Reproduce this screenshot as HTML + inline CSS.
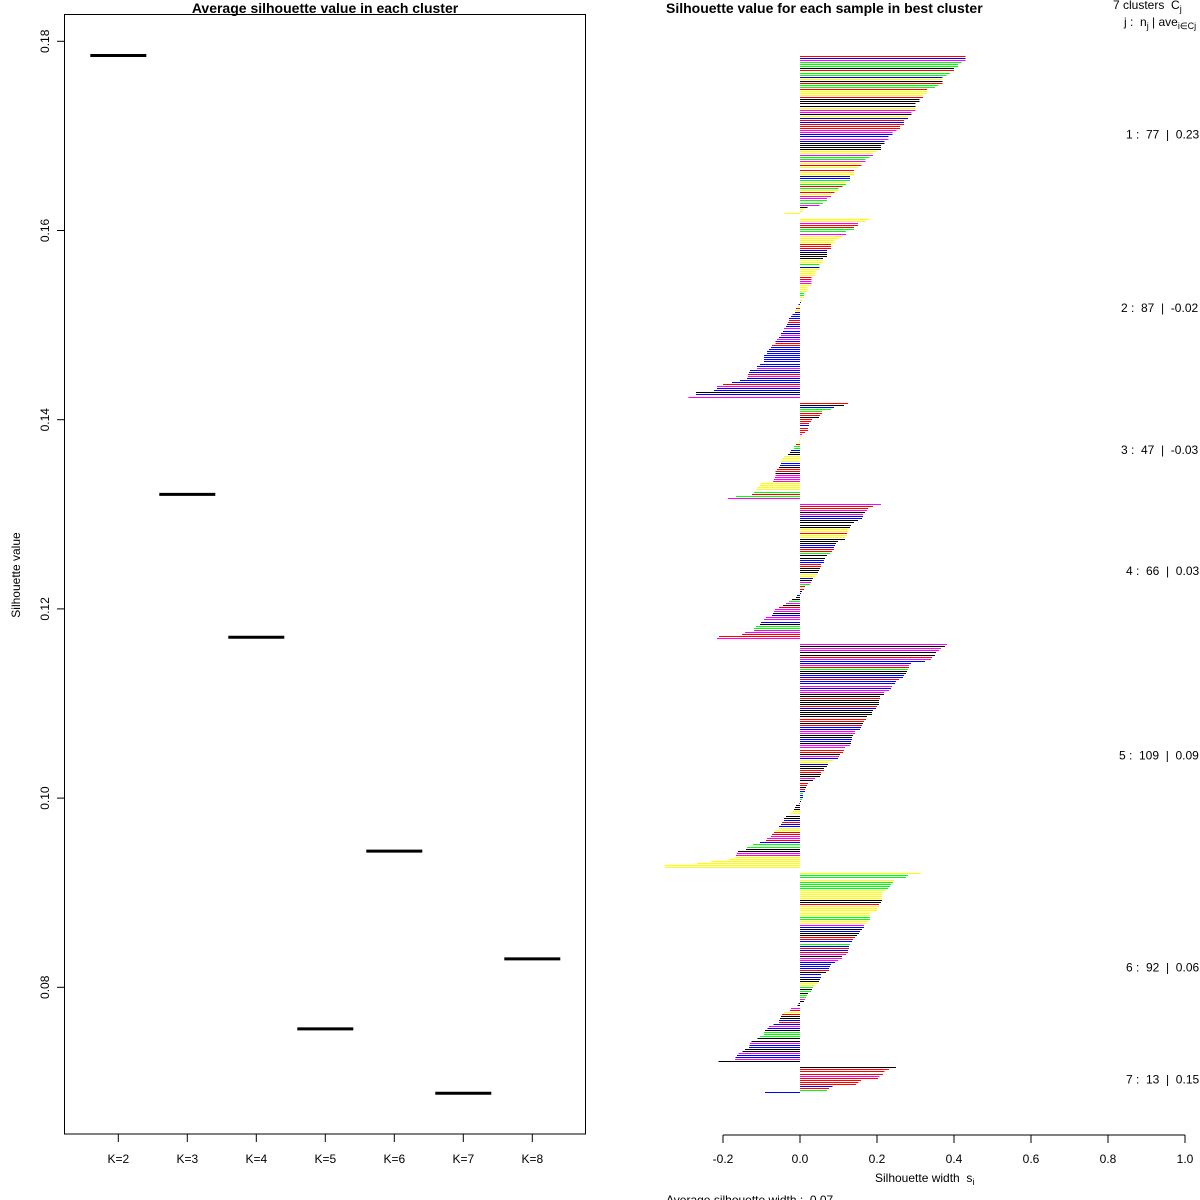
<!DOCTYPE html>
<html><head><meta charset="utf-8">
<style>
html,body{margin:0;padding:0;background:#fff;}
svg{display:block;font-family:"Liberation Sans",Arial,sans-serif;}
.pre{white-space:pre;}
</style></head>
<body>
<svg id="chart" width="1200" height="1200" viewBox="0 0 1200 1200">
  <rect x="0" y="0" width="1200" height="1200" fill="#fff"/>
  <g id="left">
    <text x="325" y="13" text-anchor="middle" font-size="14" font-weight="bold">Average silhouette value in each cluster</text>
    <rect x="64.5" y="14.5" width="521" height="1119.5" fill="none" stroke="#000" stroke-width="1"/>
    <text transform="translate(20,575) rotate(-90)" text-anchor="middle" font-size="12">Silhouette value</text>
  </g>
  <g id="right">
    <text x="666" y="13" font-size="14" font-weight="bold">Silhouette value for each sample in best cluster</text>
    <text x="1113" y="9" font-size="12" class="pre">7 clusters  C<tspan font-size="9" dy="3">j</tspan></text>
    <text x="1124" y="26" font-size="12" class="pre">j :  n<tspan font-size="9" dy="3">j</tspan><tspan dy="-3"> | ave</tspan><tspan font-size="9" dy="3">i∈Cj</tspan><tspan dy="-3">  s</tspan><tspan font-size="9" dy="3">i</tspan></text>
    <text x="875" y="1182" font-size="12" class="pre">Silhouette width  s<tspan font-size="9" dy="3">i</tspan></text>
    <text x="666" y="1204" font-size="12" class="pre">Average silhouette width :  0.07</text>
  </g>
</svg>
<script>
// ---- left chart data ----
const kLabels = ["K=2","K=3","K=4","K=5","K=6","K=7","K=8"];
const kAvg = [0.1785,0.1321,0.1170,0.0756,0.0944,0.0688,0.0830];
const yTicks = [0.08,0.10,0.12,0.14,0.16,0.18];

// ---- right chart data ----
const clusterSizes = [77,87,47,66,109,92,13];
const clusterAvgLabels = ["0.23","-0.02","-0.03","0.03","0.09","0.06","0.15"];
const xTicks = [-0.2,0.0,0.2,0.4,0.6,0.8,1.0];
const c1 = [.43,.43,.43,.42,.41,.41,.40,.40,.39,.38,.37,.37,.37,.37,.36,.35,.33,.33,.33,.32,.32,.31,.31,.30,.30,.30,.30,.29,.29,.28,.28,.27,.27,.27,.26,.26,.25,.24,.24,.23,.23,.22,.22,.21,.21,.21,.20,.19,.19,.18,.17,.17,.16,.16,.15,.14,.14,.14,.13,.13,.13,.12,.12,.11,.10,.10,.09,.08,.08,.07,.07,.06,.05,.02,.01,.005,-.04];
const c2 = [.18,.17,.15,.15,.14,.14,.12,.12,.11,.10,.09,.09,.08,.08,.08,.07,.07,.07,.07,.06,.06,.06,.05,.05,.05,.04,.04,.04,.03,.03,.03,.03,.03,.02,.02,.02,.01,.01,.01,.005,.002,
 -.004,-.007,-.01,-.013,-.013,-.02,-.023,-.029,-.029,-.031,-.034,-.036,-.042,-.044,-.05,-.05,-.055,-.06,-.063,-.063,-.073,-.075,-.081,-.086,-.086,-.094,-.094,-.094,-.094,-.104,-.112,-.112,-.13,-.132,-.135,-.135,-.138,-.156,-.177,-.2,-.216,-.216,-.223,-.27,-.27,-.29];
const c3 = [.125,.114,.088,.08,.057,.057,.052,.049,.031,.029,.023,.023,.021,.021,.013,.005,.005,.003,
 -.002,-.004,-.01,-.016,-.016,-.023,-.026,-.031,-.042,-.047,-.049,-.049,-.052,-.055,-.06,-.063,-.063,-.063,-.065,-.068,-.07,-.101,-.104,-.112,-.114,-.119,-.125,-.166,-.187];
const c4 = [.21,.19,.177,.174,.169,.164,.164,.161,.151,.14,.132,.13,.127,.125,.122,.122,.117,.117,.099,.094,.091,.088,.088,.083,.078,.07,.065,.062,.062,.055,.055,.052,.049,.047,.044,.039,.034,.031,.029,.026,.013,.01,.005,.003,
 -.008,-.01,-.021,-.029,-.036,-.044,-.055,-.065,-.068,-.07,-.073,-.088,-.094,-.101,-.104,-.114,-.119,-.119,-.143,-.151,-.21,-.216];
const c5 = [.382,.377,.366,.361,.353,.351,.343,.340,.325,.288,.283,.283,.281,.278,.275,.270,.268,.257,.249,.247,.239,.236,.231,.218,.218,.208,.208,.205,.205,.205,.2,.197,.19,.187,.187,.174,.171,.166,.164,.161,.158,.156,.143,.143,.138,.135,.135,.132,.132,.13,.117,.114,.112,.104,.101,.099,.086,.073,.073,.07,.062,.062,.055,.055,.052,.039,.034,.021,.018,.016,.013,.013,.008,.008,.008,.005,.003,
 -.003,-.01,-.013,-.016,-.018,-.026,-.036,-.042,-.042,-.047,-.049,-.055,-.055,-.065,-.068,-.073,-.075,-.086,-.088,-.104,-.122,-.138,-.14,-.161,-.164,-.166,-.169,-.184,-.231,-.268,-.351,-.351];
const c6 = [.314,.281,.275,.244,.242,.236,.234,.229,.221,.213,.213,.213,.213,.213,.21,.205,.205,.2,.2,.182,.182,.182,.182,.177,.171,.166,.166,.161,.156,.153,.148,.143,.138,.135,.13,.127,.127,.125,.125,.119,.109,.109,.099,.091,.081,.078,.075,.075,.068,.055,.055,.052,.049,.047,.039,.034,.031,.029,.021,.018,.016,.013,.01,
 -.004,-.006,-.023,-.026,-.042,-.047,-.049,-.052,-.055,-.055,-.069,-.08,-.085,-.091,-.094,-.094,-.104,-.11,-.126,-.13,-.131,-.133,-.143,-.149,-.16,-.163,-.168,-.169,-.212];
const c7 = [.249,.231,.22,.216,.207,.202,.159,.152,.146,.084,.075,.07,-.091];
const clusterValues = [c1,c2,c3,c4,c5,c6,c7];
const clusterColors = [
 "rbmgggkrggbykrggryyyrkkkkymmkybrbrrrmmbbmbkkkkyymggmyryryybbgygrgyrymmggmkyyy",
 "yymrrggmyyyyrrrbkkkkyygbyyyyrrmmyyyyggyybbyrybbbbrrbbmbbmbmbrrbbbbbbbbbbmbbrmbbbrmbbkbm",
 "rkbggrrkrrrbrrrmyyyyrggbkkyyybbkrrkmmmmyyyygrgmmrrmk",
 "mrrmkmbbkkkkyyryykkkbbrrgkkbbrrkkkyybkmgrrkbbkkgmkrmmkbmmbkggmmrrmk",
 "mkmmkkrmbbmrgkkbbrbbmbmmkkrkkkrbkkkkrrkrbbmmkkbbkmmrrkmbyybkkrrkkmkrrkrbgbbgkmkkkyykkbrbbyyrrmmrbggkkmmyyyyyyy",
 "yggyggggyyyyykkryyyyyggyymbkbkkrrbgbrbrmkmmbbbbrkbbkkyygkgkggmkkkmryrkkbrbmbkgggkkmbbkkmbbmk",
 "krrrmrrrrbrgb"
];
const colorMap = {r:"#ff0000",g:"#00ff00",b:"#0000ff",m:"#ff00ff",y:"#ffff00",k:"#000000"};

const NS = "http://www.w3.org/2000/svg";
const L = document.getElementById("left");
const R = document.getElementById("right");
function mk(tag, attrs, parent){
  const e = document.createElementNS(NS, tag);
  for (const k in attrs) e.setAttribute(k, attrs[k]);
  parent.appendChild(e);
  return e;
}

// left axes
const yL = v => 987.3 - (v - 0.08) * 9460;
const xL = i => 118.3 + i * 69;
yTicks.forEach(t => {
  const ln = mk("line", {x1:57, x2:64.5, y1:yL(t), y2:yL(t), stroke:"#000"}, L);
  
  
  const tx = mk("text", {transform:`translate(49,${yL(t)}) rotate(-90)`, "text-anchor":"middle", "font-size":12}, L);
  tx.textContent = t.toFixed(2);
  
  
});
kLabels.forEach((lab, i) => {
  const ln = mk("line", {x1:xL(i), x2:xL(i), y1:1134, y2:1142, stroke:"#000"}, L);
  
  
  const tx = mk("text", {x:xL(i), y:1163, "text-anchor":"middle", "font-size":12}, L);
  tx.textContent = lab;
  
  
  const seg = mk("line", {x1:xL(i)-28, x2:xL(i)+28, y1:yL(kAvg[i]), y2:yL(kAvg[i]), stroke:"#000", "stroke-width":3}, L);
  
  
});

// right chart
const x0 = 800, xs = 385;
const xR = v => x0 + v * xs;
const pitch = 2.064;
const yStart = 56;
let slot = 0;
const barsG = mk("g", {"shape-rendering":"crispEdges"}, R);


clusterValues.forEach((vals, ci) => {
  const top = yStart + slot * pitch;
  vals.forEach((v, i) => {
    const y = Math.round(top + i * pitch);
    const ch = clusterColors[ci][i % clusterColors[ci].length];
    const x1 = Math.min(xR(0), xR(v)), w = Math.max(Math.abs(xR(v) - xR(0)), 1);
    const r = mk("rect", {x:x1, y:y, width:w, height:1, fill:colorMap[ch]}, barsG);
    
    
  });
  const mid = top + (vals.length - 1) * pitch / 2 + 4;
  const lbl = mk("text", {x:1126 - (String(clusterSizes[ci]).length - 2) * 7 - (clusterAvgLabels[ci][0] === '-' ? 5 : 0), y:mid, "font-size":12, "class":"pre"}, R);
  lbl.textContent = (ci+1) + " :  " + clusterSizes[ci] + "  |  " + clusterAvgLabels[ci];
  
  
  slot += vals.length + 2;
});
const axis = mk("line", {x1:xR(-0.2), x2:xR(1.0), y1:1135, y2:1135, stroke:"#000"}, R);


xTicks.forEach(t => {
  const ln = mk("line", {x1:xR(t), x2:xR(t), y1:1135, y2:1143, stroke:"#000"}, R);
  
  
  const tx = mk("text", {x:xR(t), y:1163, "text-anchor":"middle", "font-size":12}, R);
  tx.textContent = t.toFixed(1);
  
  
});
</script>
</body></html>
